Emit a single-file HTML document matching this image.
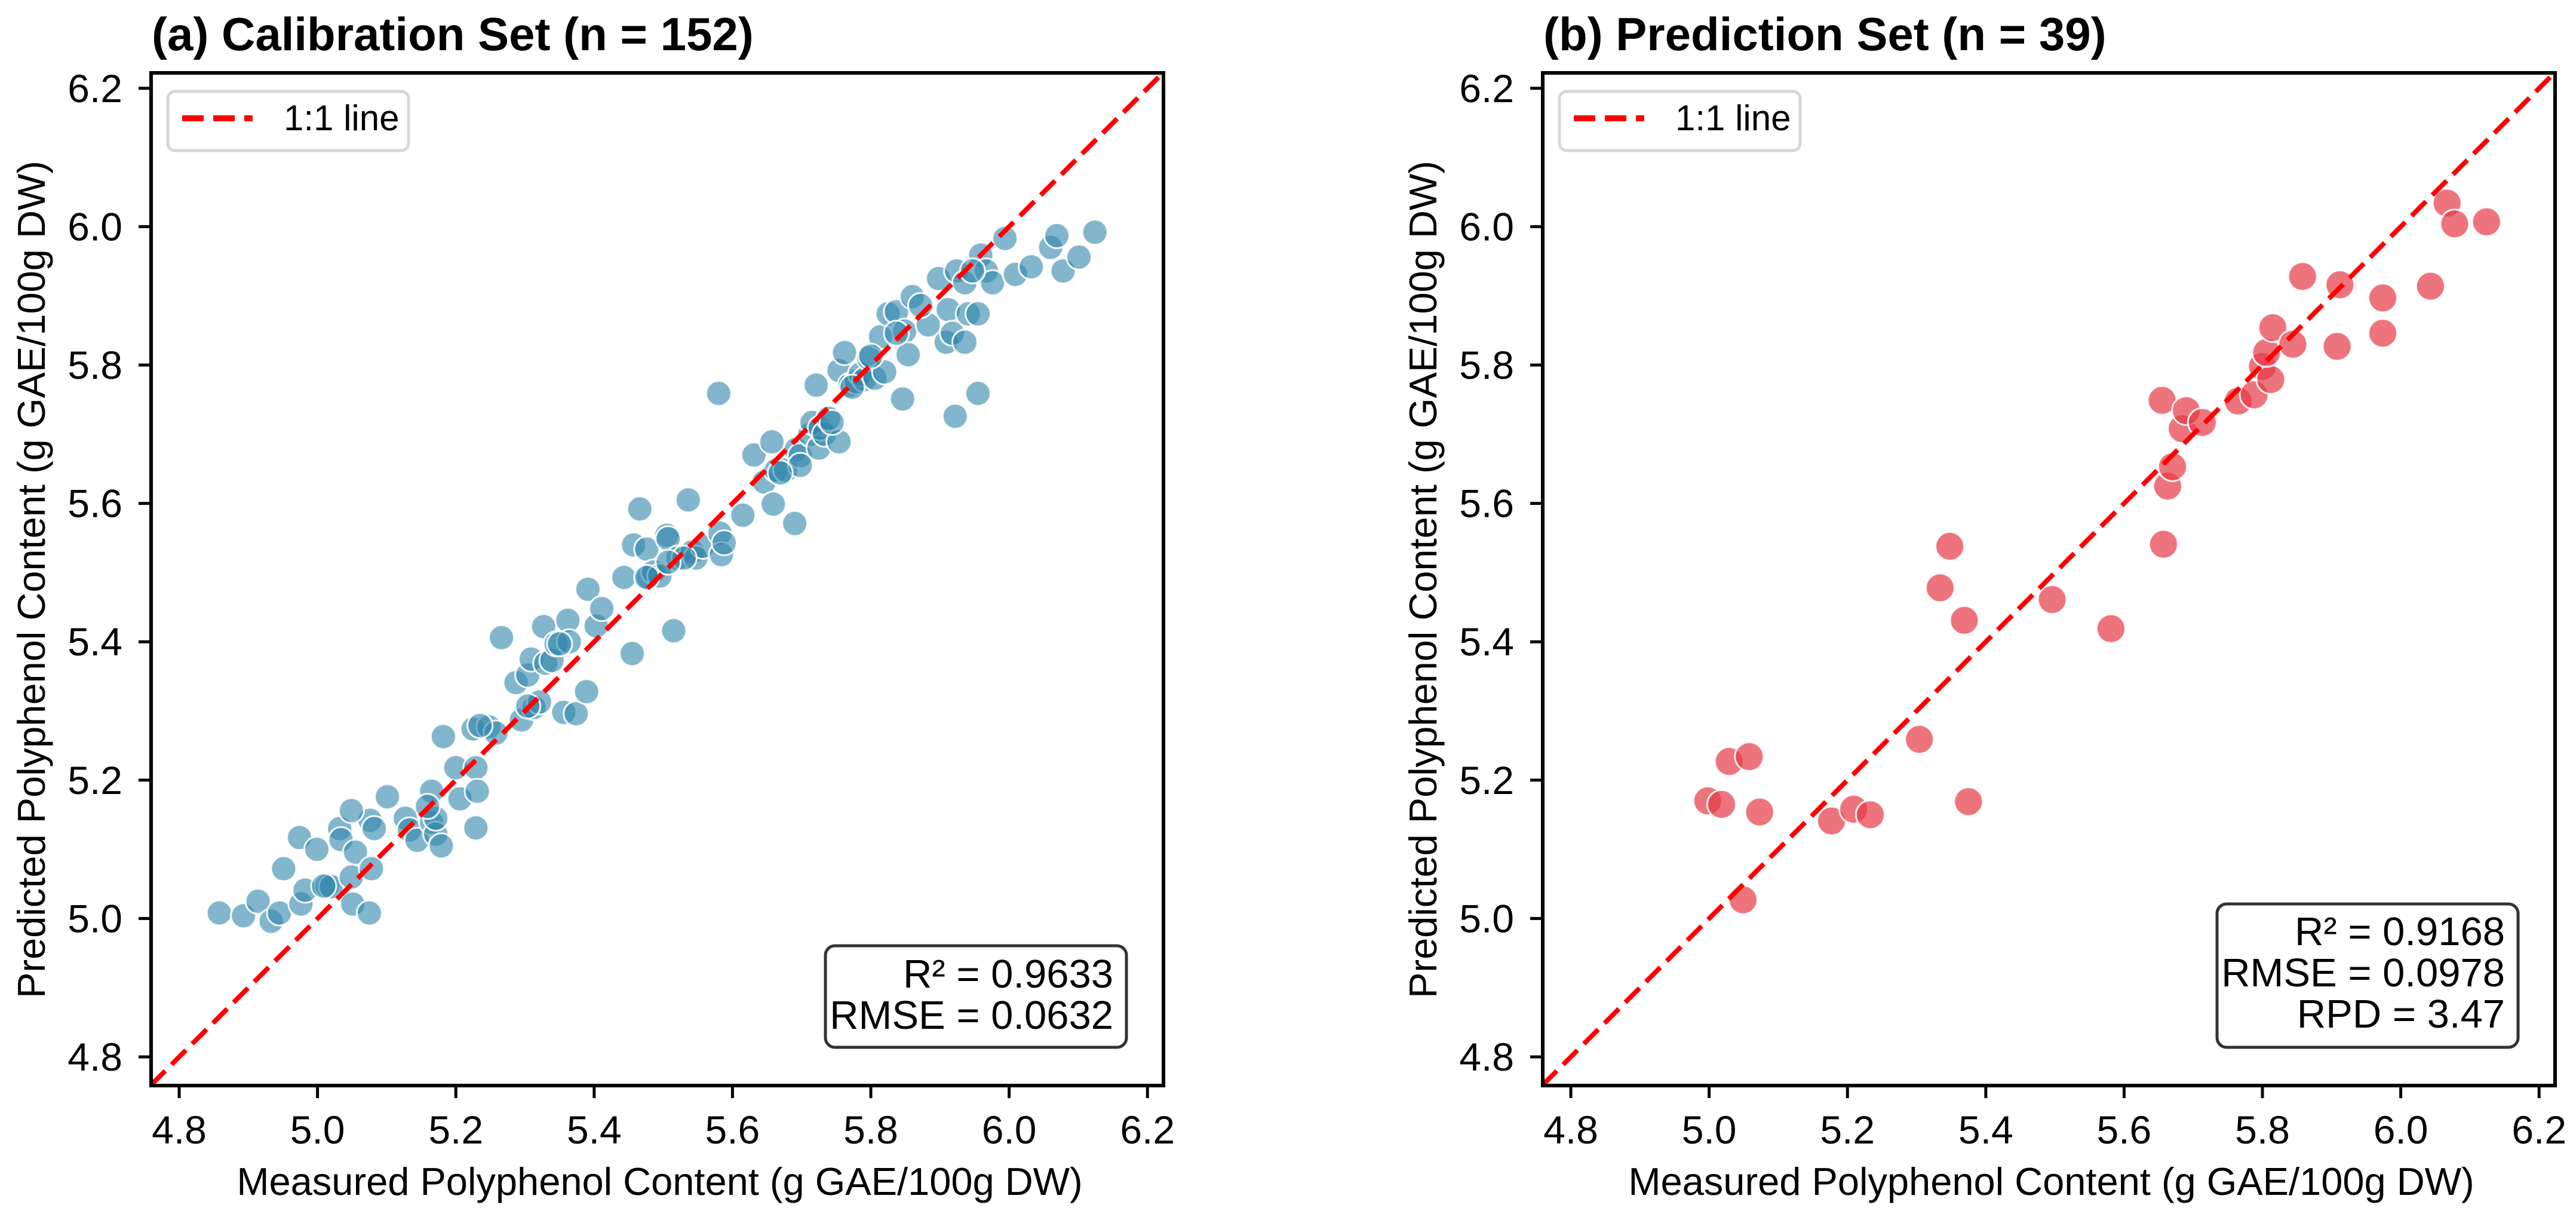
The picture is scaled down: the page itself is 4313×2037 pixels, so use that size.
<!DOCTYPE html>
<html><head><meta charset="utf-8"><style>
html,body{margin:0;padding:0;background:#fff;}
svg{display:block;font-family:"Liberation Sans",Arial,sans-serif;}
</style></head><body>
<svg id="fig" width="4313" height="2037" viewBox="0 0 4313 2037" xmlns="http://www.w3.org/2000/svg">
<rect width="4313" height="2037" fill="#fff"/>
</svg>
<script>
const calMeasured=[4.858,4.893,4.914,4.933,4.945,4.951,4.974,4.976,4.982,4.999,5.014,5.020,5.032,5.034,5.049,5.051,5.055,5.076,5.075,5.078,5.082,5.101,5.127,5.133,5.144,5.165,5.165,5.171,5.179,5.182,5.200,5.206,5.229,5.231,5.229,5.225,5.248,5.258,5.266,5.287,5.295,5.304,5.309,5.313,5.327,5.330,5.339,5.345,5.356,5.362,5.364,5.374,5.389,5.391,5.403,5.411,5.443,5.455,5.457,5.466,5.476,5.478,5.486,5.495,5.505,5.507,5.515,5.521,5.536,5.542,5.547,5.557,5.580,5.582,5.584,5.615,5.631,5.646,5.657,5.659,5.663,5.677,5.690,5.692,5.698,5.712,5.715,5.721,5.725,5.727,5.733,5.739,5.754,5.754,5.762,5.770,5.779,5.785,5.791,5.797,5.806,5.814,5.820,5.825,5.837,5.846,5.849,5.854,5.860,5.883,5.898,5.909,5.912,5.918,5.924,5.936,5.936,5.941,5.955,5.955,5.959,5.967,5.976,5.994,6.009,6.032,6.060,6.069,6.078,6.101,6.124,5.922,5.872,5.837,5.947,5.800,5.773,5.744,5.698,5.669,5.588,5.530,5.507,5.476,5.350,5.321,5.304,5.235,5.171,5.159,5.049,5.009];
const calPredicted=[5.008,5.004,5.025,4.996,5.008,5.072,5.117,5.021,5.041,5.100,5.047,5.046,5.130,5.114,5.060,5.021,5.096,5.142,5.008,5.072,5.130,5.176,5.145,5.128,5.113,5.184,5.139,5.122,5.105,5.263,5.218,5.173,5.218,5.184,5.131,5.274,5.277,5.268,5.406,5.341,5.287,5.352,5.375,5.305,5.422,5.369,5.373,5.397,5.298,5.431,5.400,5.296,5.328,5.476,5.423,5.448,5.493,5.383,5.540,5.592,5.534,5.493,5.501,5.495,5.554,5.549,5.416,5.521,5.605,5.530,5.521,5.538,5.759,5.557,5.526,5.583,5.670,5.631,5.689,5.599,5.648,5.648,5.571,5.678,5.669,5.700,5.717,5.771,5.680,5.709,5.700,5.723,5.689,5.792,5.818,5.771,5.776,5.787,5.779,5.810,5.781,5.841,5.790,5.874,5.877,5.751,5.849,5.815,5.899,5.858,5.925,5.833,5.880,5.846,5.936,5.919,5.833,5.874,5.759,5.874,5.959,5.936,5.919,5.983,5.931,5.942,5.970,5.987,5.936,5.956,5.992,5.726,5.886,5.846,5.936,5.813,5.768,5.717,5.655,5.644,5.543,5.521,5.515,5.493,5.397,5.313,5.307,5.279,5.145,5.162,5.156,5.047];
const predMeasured=[4.998,5.018,5.029,5.058,5.073,5.049,5.177,5.209,5.233,5.304,5.334,5.348,5.369,5.375,5.496,5.581,5.655,5.657,5.663,5.670,5.684,5.690,5.713,5.765,5.788,5.800,5.812,5.806,5.815,5.844,5.858,5.908,5.912,5.974,5.974,6.043,6.067,6.078,6.124];
const predPredicted=[5.170,5.165,5.227,5.234,5.154,5.027,5.141,5.158,5.150,5.259,5.478,5.538,5.431,5.169,5.461,5.419,5.749,5.541,5.625,5.653,5.708,5.734,5.717,5.748,5.757,5.798,5.779,5.818,5.854,5.830,5.928,5.827,5.916,5.897,5.846,5.914,6.034,6.004,6.007];
const tickValues=[4.8,5.0,5.2,5.4,5.6,5.8,6.0,6.2];
const tickLabels=["4.8","5.0","5.2","5.4","5.6","5.8","6.0","6.2"];
const axisMin=4.759, axisMax=6.223;

const NS="http://www.w3.org/2000/svg";
const svg=document.getElementById('fig');
function mk(tag,attrs,parent){const e=document.createElementNS(NS,tag);for(const k in attrs)e.setAttribute(k,attrs[k]);(parent||svg).appendChild(e);return e;}

function panel(ox,key,title,mx,my,fill,op,r,stats){
  const g=mk('g',{});
  
  
  const L=253+ox,R=1948+ox,T=122,B=1817;
  const sx=v=>300+ox+(v-4.8)*1158;
  const sy=v=>1769-(v-4.8)*1158;
  const t=mk('text',{x:254+ox,y:84,'font-size':78,'font-weight':'bold',fill:'#000'},g);
  t.textContent=title;
  
  
  const cp=mk('clipPath',{id:'clip'+key},g);
  mk('rect',{x:L,y:T,width:R-L,height:B-T},cp);
  const pts=mk('g',{'clip-path':'url(#clip'+key+')'},g);
  
  
  for(let i=0;i<mx.length;i++){
    const c=mk('circle',{cx:sx(mx[i]),cy:sy(my[i]),r:r,fill:fill,'fill-opacity':op,stroke:'#fff','stroke-width':3,'stroke-opacity':0.9},pts);
    
    
  }
  const ln=mk('line',{x1:sx(axisMin),y1:sy(axisMin),x2:sx(axisMax),y2:sy(axisMax),stroke:'#ff0000','stroke-width':8,'stroke-dasharray':'34 15','clip-path':'url(#clip'+key+')'},g);
  
  
  const fr=mk('rect',{x:L,y:T,width:R-L,height:B-T,fill:'none',stroke:'#000','stroke-width':6},g);
  
  
  for(let i=0;i<tickValues.length;i++){
    const x=sx(tickValues[i]),y=sy(tickValues[i]);
    mk('line',{x1:x,y1:B,x2:x,y2:B+21,stroke:'#000','stroke-width':5},g);
    const xl=mk('text',{x:x,y:1914,'font-size':66,'text-anchor':'middle',fill:'#000'},g);
    xl.textContent=tickLabels[i];
    
    
    mk('line',{x1:L-21,y1:y,x2:L,y2:y,stroke:'#000','stroke-width':5},g);
    const yl=mk('text',{x:L-48,y:y+23,'font-size':66,'text-anchor':'end',fill:'#000'},g);
    yl.textContent=tickLabels[i];
    
    
  }
  const xt=mk('text',{x:(L+R)/2+4,y:2000,'font-size':65,'text-anchor':'middle',fill:'#000'},g);
  xt.textContent='Measured Polyphenol Content (g GAE/100g DW)';
  
  
  const yt=mk('text',{x:0,y:0,'font-size':65,'text-anchor':'middle',fill:'#000',transform:'translate('+(75+ox)+',970) rotate(-90)'},g);
  yt.textContent='Predicted Polyphenol Content (g GAE/100g DW)';
  
  
  const lg=mk('g',{},g);
  
  
  mk('rect',{x:281+ox,y:153,width:403,height:99,rx:12,fill:'#fff',stroke:'#d6d6d6','stroke-width':5},lg);
  mk('line',{x1:305+ox,y1:198,x2:423+ox,y2:198,stroke:'#ff0000','stroke-width':10,'stroke-dasharray':'36 16'},lg);
  const lt=mk('text',{x:475+ox,y:218,'font-size':60,fill:'#000'},lg);
  lt.textContent='1:1 line';
  
  
  const sb=mk('g',{},g);
  
  
  const n=stats.length, lh=69;
  const bot=1753, top=bot-(n===2?170:240);
  mk('rect',{x:1382+ox,y:top,width:504,height:bot-top,rx:16,fill:'#fff',stroke:'#333','stroke-width':5},sb);
  const firstBase = n===2?1653:1582;
  for(let i=0;i<n;i++){
    const st=mk('text',{x:1864+ox,y:firstBase+i*lh,'font-size':67,'text-anchor':'end',fill:'#000'},sb);
    st.textContent=stats[i];
    
    
  }
}
panel(0,'calibration','(a) Calibration Set (n = 152)',calMeasured,calPredicted,'#2E86AB',0.6,21,['R\u00b2 = 0.9633','RMSE = 0.0632']);
panel(2330,'prediction','(b) Prediction Set (n = 39)',predMeasured,predPredicted,'#E63946',0.7,24,['R\u00b2 = 0.9168','RMSE = 0.0978','RPD = 3.47']);
</script>
</body></html>
